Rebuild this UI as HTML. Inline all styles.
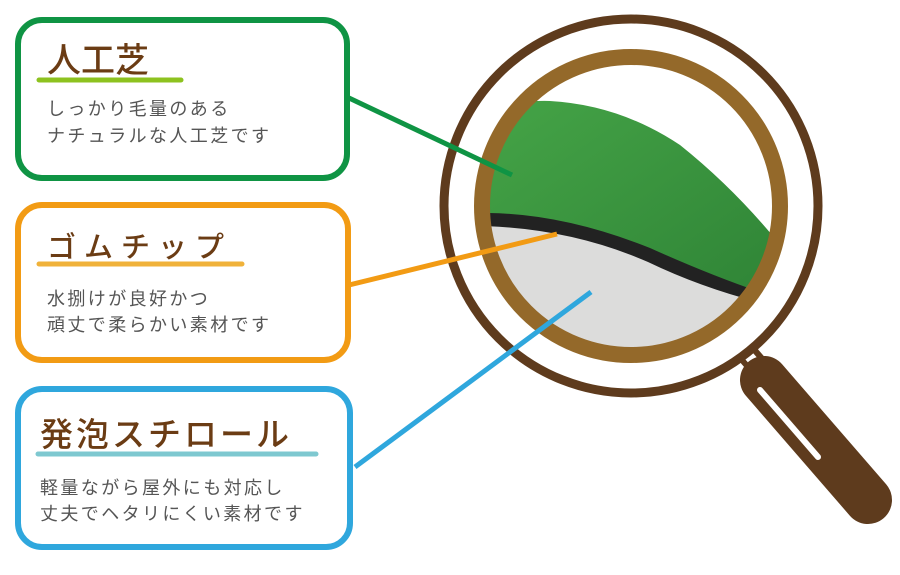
<!DOCTYPE html>
<html><head><meta charset="utf-8"><style>
html,body{margin:0;padding:0;background:#fff;}
svg{display:block;}
text{font-family:"Liberation Sans","Noto Sans CJK JP",sans-serif;}
.t{fill:#6b3c14;font-weight:500;}
.b{fill:#555;font-size:18px;letter-spacing:2.4px;}
</style></head><body>
<svg width="900" height="575" viewBox="0 0 900 575" xmlns="http://www.w3.org/2000/svg">
<defs>
<clipPath id="lens"><circle cx="631" cy="206" r="142"/></clipPath>
<linearGradient id="g" x1="0" y1="0" x2="1" y2="1"><stop offset="0" stop-color="#45a447"/><stop offset="1" stop-color="#2f8436"/></linearGradient>
</defs>
<rect x="18" y="20" width="329" height="158" rx="24" fill="#fff" stroke="#0f9444" stroke-width="6"/>
<rect x="18" y="205" width="330" height="155" rx="24" fill="#fff" stroke="#f29b14" stroke-width="6"/>
<rect x="18" y="389" width="332" height="158" rx="24" fill="#fff" stroke="#2fa7dd" stroke-width="6"/>

<text class="t" x="47" y="72" font-size="34">人工芝</text>
<line x1="39" y1="80" x2="181" y2="80" stroke="#8dc21f" stroke-width="5" stroke-linecap="round"/>
<text class="b" x="47" y="115">しっかり毛量のある</text>
<text class="b" x="47" y="142">ナチュラルな人工芝です</text>

<text class="t" x="47" y="257" font-size="29" letter-spacing="8">ゴムチップ</text>
<line x1="39" y1="264" x2="242" y2="264" stroke="#f0b23a" stroke-width="5" stroke-linecap="round"/>
<text class="b" x="47" y="305">水捌けが良好かつ</text>
<text class="b" x="47" y="331">頑丈で柔らかい素材です</text>

<text class="t" x="40" y="446" font-size="33" letter-spacing="3">発泡スチロール</text>
<line x1="38" y1="454" x2="316" y2="454" stroke="#7ec8d0" stroke-width="5" stroke-linecap="round"/>
<text class="b" x="40" y="494">軽量ながら屋外にも対応し</text>
<text class="b" x="40" y="520">丈夫でヘタリにくい素材です</text>

<line x1="744" y1="350" x2="770" y2="380" stroke="#5e3b1d" stroke-width="22"/>
<line x1="749" y1="356" x2="768" y2="378" stroke="#fff" stroke-width="10"/>
<line x1="764" y1="380" x2="868" y2="500" stroke="#5e3b1d" stroke-width="48" stroke-linecap="round"/>
<line x1="760" y1="390" x2="818" y2="457" stroke="#fff" stroke-width="6" stroke-linecap="round"/>
<circle cx="631" cy="206" r="187" fill="#fff" stroke="#5e3b1d" stroke-width="9"/>
<g clip-path="url(#lens)">
<rect x="480" y="60" width="310" height="300" fill="#fff"/>
<path d="M480 360 L480 215 Q560 215 650 255 Q710 280 760 300 L790 300 L790 360 Z" fill="#dcdcdb"/>
<path d="M480 110 Q520 100 550 101 Q620 105 680 145 Q730 185 772 235 L760 300 Q700 285 650 260 Q580 225 480 222 Z" fill="url(#g)"/>
<path d="M480 213 Q560 212 650 248 Q710 275 760 292 L758 302 Q700 287 648 262 Q570 228 480 226 Z" fill="#222"/>
</g>
<circle cx="631" cy="206" r="149" fill="none" stroke="#94692a" stroke-width="16"/>
<line x1="349" y1="98" x2="512" y2="175" stroke="#0f9444" stroke-width="5"/>
<line x1="349" y1="285" x2="557" y2="234" stroke="#f29b14" stroke-width="5"/>
<line x1="355" y1="467" x2="591" y2="292" stroke="#2fa7dd" stroke-width="5"/>
</svg>
</body></html>
